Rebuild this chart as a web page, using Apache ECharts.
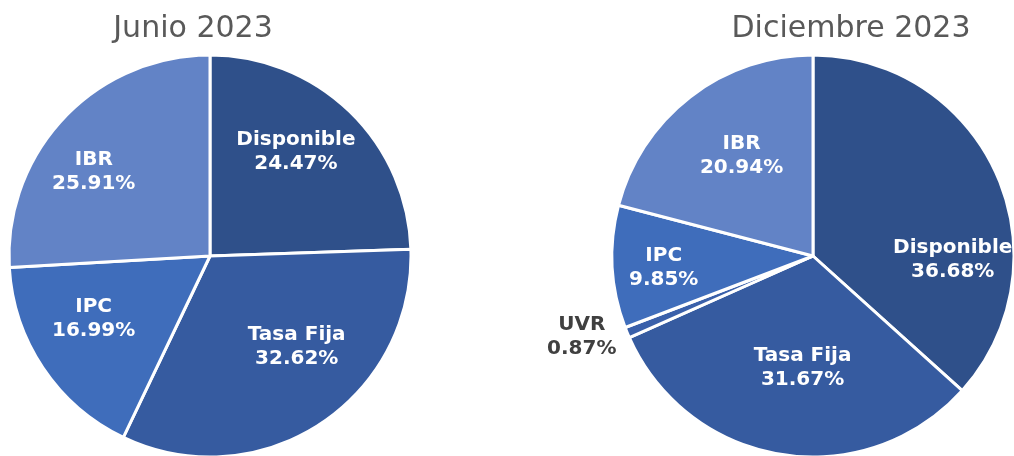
<!DOCTYPE html>
<html>
<head>
<meta charset="utf-8">
<script src="https://cdn.jsdelivr.net/npm/echarts@6/dist/echarts.min.js"></script>
<style>
  html, body { margin: 0; padding: 0; background: #fff; }
  #chart { width: 1014px; height: 456px; }
</style>
</head>
<body>
<div id="chart"></div>
<script>
// datos de los dos cortes
const titulos = ['Junio 2023', 'Diciembre 2023']
const catJunio = ['Disponible', 'Tasa Fija', 'IPC', 'IBR']
const valJunio = [24.47, 32.62, 16.99, 25.91]
const catDic = ['Disponible', 'Tasa Fija', 'UVR', 'IPC', 'IBR']
const valDic = [36.68, 31.67, 0.87, 9.85, 20.94]

const colores = {
  'Disponible': '#2F508A',
  'Tasa Fija': '#365BA0',
  'UVR': '#3A60AA',
  'IPC': '#3F6DBB',
  'IBR': '#6283C6'
}

// ajustes finos de las etiquetas (estilo, no datos)
const ajusteJunio = {
  'Disponible': [-9, -6], 'Tasa Fija': [12, -23], 'IPC': [-3, -13], 'IBR': [-17, 10]
}
const ajusteDic = {
  'Disponible': [15, 59], 'Tasa Fija': [11, -23], 'UVR': [-105, 29], 'IPC': [-13, 4], 'IBR': [12, 8]
}

const R = 201
const fuente = '"DejaVu Sans", Verdana, sans-serif'

const armar = (cats, vals) => cats.map((c, i) => ({ name: c, value: vals[i] }))

// serie base: solo los sectores
const pieBase = (cats, vals, cx) => ({
  type: 'pie',
  center: [cx, 256],
  radius: [0, R],
  startAngle: 90,
  clockwise: true,
  silent: true,
  label: { show: false },
  labelLine: { show: false },
  itemStyle: { borderColor: '#fff', borderWidth: 3 },
  data: armar(cats, vals).map(d => ({ ...d, itemStyle: { color: colores[d.name] } }))
})

// serie transparente encima, solo para las etiquetas
const pieEtiquetas = (cats, vals, cx, ajuste) => ({
  type: 'pie',
  center: [cx, 256],
  radius: [66, R],
  startAngle: 90,
  clockwise: true,
  silent: true,
  itemStyle: { color: 'rgba(0,0,0,0)', borderWidth: 0 },
  label: {
    show: true,
    position: 'inside',
    color: '#fff',
    fontFamily: fuente,
    fontWeight: 'bold',
    fontSize: 20,
    lineHeight: 24,
    formatter: p => p.name + '\n' + p.value.toFixed(2) + '%'
  },
  labelLine: { show: false },
  labelLayout: p => {
    const a = ajuste[cats[p.dataIndex]] || [0, 0]
    return { dx: a[0], dy: a[1] }
  },
  data: armar(cats, vals).map(d => d.name === 'UVR' ? {
    ...d,
    label: { color: '#404040' }
  } : d)
})

const chart = echarts.init(document.getElementById('chart'), null, { renderer: 'canvas' })

chart.setOption({
  animation: false,
  backgroundColor: '#fff',
  title: [
    { text: titulos[0], left: 188, top: 9, textAlign: 'center',
      textStyle: { fontFamily: fuente, fontWeight: 'normal', fontSize: 30, color: '#595959' } },
    { text: titulos[1], left: 846, top: 9, textAlign: 'center',
      textStyle: { fontFamily: fuente, fontWeight: 'normal', fontSize: 30, color: '#595959' } }
  ],
  series: [
    pieBase(catJunio, valJunio, 210),
    pieBase(catDic, valDic, 813),
    pieEtiquetas(catJunio, valJunio, 210, ajusteJunio),
    pieEtiquetas(catDic, valDic, 813, ajusteDic)
  ]
})
</script>
</body>
</html>
